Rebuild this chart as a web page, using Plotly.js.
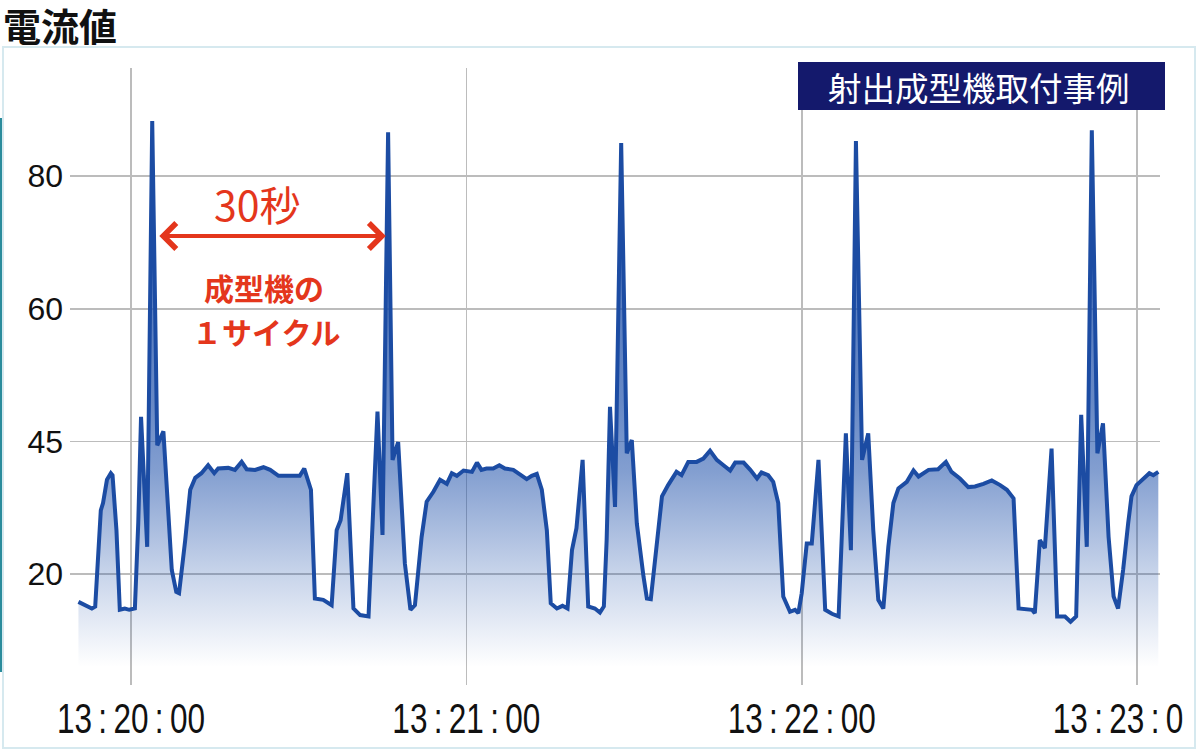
<!DOCTYPE html>
<html>
<head>
<meta charset="utf-8">
<script src="https://cdn.plot.ly/plotly-3.0.1.min.js"></script>
<style>html,body{margin:0;padding:0;background:#fff;}#chart{width:1200px;height:752px;}</style>
</head>
<body>
<div id="chart"></div>
<script>
// time in seconds relative to 13:20:00
const secondsFrom1320 = [
  -9.4,-8.2,-7.0,-6.4,-5.4,-5.0,-4.3,-3.6,-3.3,-2.6,
  -2.0,-1.1,-0.3,0.7,1.3,1.8,2.9,3.8,4.7,5.8,
  6.7,7.3,8.1,8.6,9.7,10.6,11.5,12.6,13.8,14.9,
  15.6,17.4,18.6,19.8,20.7,22.2,23.7,24.9,26.4,28.4,
  30.2,31.0,31.5,32.2,32.9,34.4,35.9,36.8,37.5,38.7,
  39.8,41.0,42.5,43.4,44.1,45.0,46.0,46.8,47.8,49.0,
  50.0,50.8,52.0,52.9,54.1,55.3,56.5,57.4,58.3,59.5,
  61.0,61.9,62.7,63.6,64.8,65.9,66.9,68.4,69.9,70.8,
  71.7,72.6,73.5,74.4,75.1,76.2,77.2,78.1,78.9,79.7,
  80.8,81.8,83.0,83.9,84.6,85.1,85.7,86.6,87.7,88.7,
  89.6,90.5,91.7,92.3,93.0,93.8,95.0,96.1,97.6,98.5,
  99.7,101.2,102.4,103.6,104.8,106.0,107.2,108.1,109.6,110.8,
  112.0,112.8,114.0,114.9,115.8,116.7,117.9,118.8,119.4,120.0,
  120.9,121.8,123.0,124.2,125.4,126.6,127.2,127.9,128.8,129.7,
  130.8,131.9,132.8,133.7,134.6,135.5,136.4,137.3,138.8,140.0,
  140.9,142.7,144.4,145.8,146.8,148.3,149.8,151.0,152.5,154.0,
  155.5,156.7,157.9,158.8,161.2,161.7,162.6,163.5,164.7,165.7,
  167.1,168.1,169.1,170.0,171.0,171.9,172.9,173.9,174.9,175.8,
  176.6,177.5,178.4,179.0,179.9,181.4,182.2,182.9,183.8
];
// current (chart scale units)
const currentValues = [
  15.8,15.3,14.8,15.1,29.6,30.7,34.2,35.2,34.9,26.6,
  14.6,14.8,14.6,14.8,27.7,43.7,24.1,88.3,39.4,41.5,
  27.7,20.6,17.3,17.1,25.1,32.7,34.5,35.2,36.4,35.2,
  35.9,36.0,35.7,36.9,35.8,35.7,36.1,35.7,34.8,34.8,
  34.8,35.9,34.7,32.7,16.3,16.1,15.3,26.6,28.1,35.2,
  14.8,13.8,13.6,32.7,44.5,25.9,86.6,37.2,39.9,21.6,
  14.6,15.3,25.6,30.9,32.4,34.2,33.6,35.2,34.8,35.6,
  35.4,36.8,35.7,35.9,35.9,36.4,35.9,35.7,34.9,34.3,
  34.8,35.1,32.7,26.6,15.6,14.8,15.2,14.8,23.6,26.9,
  37.2,15.1,14.8,14.2,15.1,25.1,45.2,30.1,85.0,38.2,
  40.2,27.6,19.6,16.3,16.2,22.6,31.7,33.4,35.4,34.9,
  36.9,36.9,37.4,38.6,37.2,36.4,35.6,36.8,36.8,35.7,
  34.4,35.3,34.9,33.9,30.7,16.6,14.3,14.6,14.1,17.1,
  24.6,24.6,37.2,14.6,14.0,13.6,27.6,41.2,23.6,85.3,
  37.2,41.2,26.6,16.1,14.8,24.1,30.7,32.9,33.9,35.6,
  34.7,35.7,35.8,36.9,35.4,34.4,33.1,33.2,33.6,34.1,
  33.4,32.7,31.4,14.8,14.6,14.1,25.1,23.9,38.9,13.6,
  13.6,12.8,13.6,44.0,24.1,86.9,38.2,42.7,25.6,16.6,
  14.8,20.6,27.6,31.7,33.4,34.6,35.2,34.9,35.4
];
const xTickSeconds = [0, 60, 120, 180];
const xTickLabels = [
  '13\u2009:\u200920\u2009:\u200900',
  '13\u2009:\u200921\u2009:\u200900',
  '13\u2009:\u200922\u2009:\u200900',
  '13\u2009:\u200923\u2009:\u20090'
];
const yTickPositions = [20, 40, 60, 80];
const yTickLabels = ['20', '45', '60', '80'];
const chartTitle = '電流値';
const boxLabel = '射出成型機取付事例';
const cycleLabel = '30秒';
const cycleNote1 = '成型機の';
const cycleNote2 = '１サイクル';

const RED = '#e4361c';
const trace = {
  type: 'scatter', mode: 'lines',
  x: secondsFrom1320, y: currentValues,
  line: {color: '#1c4ca3', width: 4},
  fill: 'tozeroy',
  fillgradient: {
    type: 'vertical', start: 6, stop: 90,
    colorscale: [
      [0, 'rgba(30,80,170,0)'],
      [0.17, 'rgba(30,80,170,0.25)'],
      [0.35, 'rgba(30,80,170,0.55)'],
      [0.48, 'rgba(30,80,170,0.68)'],
      [1, 'rgba(30,80,170,0.85)']
    ]
  },
  hoverinfo: 'skip'
};

const PL = 70, PR = 1160, PT = 68, PB = 685;
const px = v => (v - PL) / (PR - PL);
const py = v => (PB - v) / (PB - PT);

const layout = {
  width: 1200, height: 752,
  margin: {l: PL, r: 1200 - PR, t: PT, b: 752 - PB, pad: 0},
  paper_bgcolor: '#ffffff', plot_bgcolor: '#ffffff',
  showlegend: false,
  title: {
    text: '<b>' + chartTitle + '</b>',
    x: 3 / 1200, xref: 'container', xanchor: 'left',
    y: 1 - 28 / 752, yref: 'container', yanchor: 'middle',
    font: {family: 'Noto Sans CJK JP', size: 38, color: '#111111'}
  },
  xaxis: {
    range: [-10.91, 184.1],
    tickmode: 'array', tickvals: xTickSeconds, ticktext: xTickLabels,
    showgrid: true, gridcolor: '#bcbcbc', gridwidth: 1.6,
    zeroline: false, showline: false, ticks: '',
    ticklabelstandoff: 5, ticklabeloverflow: 'allow',
    tickfont: {family: 'Liberation Sans, Arial, sans-serif', size: 42, color: '#111111'}
  },
  yaxis: {
    range: [3.26, 96.3],
    tickmode: 'array', tickvals: yTickPositions, ticktext: yTickLabels,
    showgrid: true, gridcolor: '#bcbcbc', gridwidth: 1.6,
    zeroline: false, showline: false, ticks: '',
    ticklabelstandoff: 6,
    tickfont: {family: 'Liberation Sans, Arial, sans-serif', size: 32, color: '#111111'}
  },
  shapes: [
    {type: 'rect', xref: 'paper', yref: 'paper', x0: px(3), x1: px(1195), y0: py(748), y1: py(47),
     line: {color: '#d6e9ef', width: 2}, fillcolor: 'rgba(0,0,0,0)', layer: 'below'},
    {type: 'line', xref: 'paper', yref: 'paper', x0: px(1), x1: px(1), y0: py(672), y1: py(118),
     line: {color: '#2a8c9c', width: 2}},
    {type: 'rect', xref: 'paper', yref: 'paper', x0: px(798), x1: px(1165), y0: py(110), y1: py(62),
     line: {width: 0}, fillcolor: '#14196c', layer: 'above'}
  ],
  annotations: [
    {xref: 'paper', yref: 'paper', x: px(979), y: py(86), text: boxLabel, showarrow: false,
     xanchor: 'center', yanchor: 'middle',
     font: {family: 'Noto Sans CJK JP', size: 33.5, color: '#ffffff'}},
    {xref: 'x', yref: 'y', x: 22.7, y: 75.9, text: cycleLabel, showarrow: false,
     xanchor: 'center', yanchor: 'middle',
     font: {family: 'Noto Sans CJK JP', size: 41, color: RED}},
    {xref: 'x', yref: 'y', x: 45.6, y: 70.95, axref: 'x', ayref: 'y', ax: 4.8, ay: 70.95,
     text: '', showarrow: true, arrowside: 'end+start', arrowhead: 4, startarrowhead: 4,
     arrowsize: 1.25, startarrowsize: 1.25, arrowwidth: 4, arrowcolor: RED, standoff: 0, startstandoff: 0},
    {xref: 'x', yref: 'y', x: 23.8, y: 63.3, text: '<b>' + cycleNote1 + '</b>', showarrow: false,
     xanchor: 'center', yanchor: 'middle',
     font: {family: 'Noto Sans CJK JP', size: 30, color: RED}},
    {xref: 'x', yref: 'y', x: 24.2, y: 56.6, text: '<b>' + cycleNote2 + '</b>', showarrow: false,
     xanchor: 'center', yanchor: 'middle',
     font: {family: 'Noto Sans CJK JP', size: 30, color: RED}}
  ]
};

Plotly.newPlot('chart', [trace], layout, {staticPlot: true, displayModeBar: false}).then(function (gd) {
  // condense the time labels horizontally, like the narrow face of the original
  const texts = gd.querySelectorAll('.xtick text');
  if (!texts.length) return;
  const ratio = 148 / texts[0].getComputedTextLength();
  texts.forEach(function (t, i) {
    const w = t.getComputedTextLength();
    t.setAttribute('textLength', (w * ratio).toFixed(1));
    t.setAttribute('lengthAdjust', 'spacingAndGlyphs');
    if (i === texts.length - 1) t.setAttribute('dx', '-19');
  });
});
</script>
</body>
</html>
